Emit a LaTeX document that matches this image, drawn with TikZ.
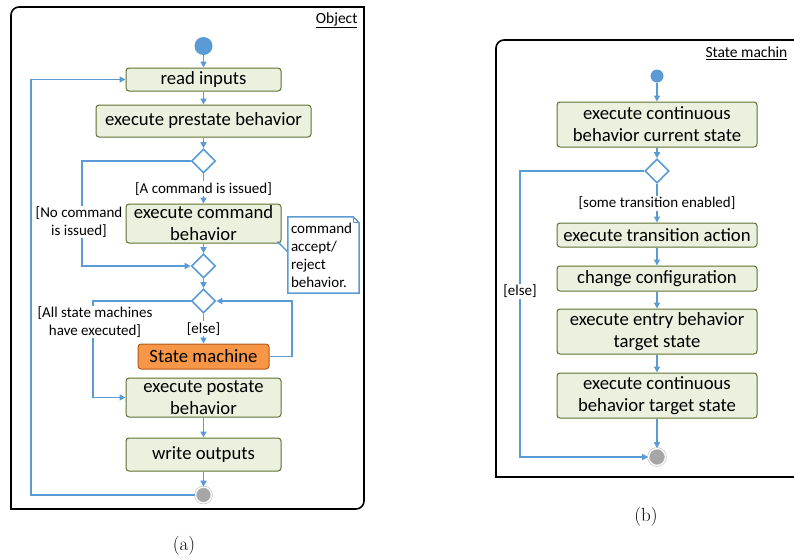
\documentclass[tikz,border=0pt]{standalone}
\usepackage{fontspec}
\newfontfamily\calfont{Carlito}
\usepackage{tikz}
\usetikzlibrary{arrows.meta,shapes.geometric,positioning}
\definecolor{flowblue}{HTML}{5B9BD5}
\definecolor{boxfill}{HTML}{EBF1DE}
\definecolor{boxline}{HTML}{5F6F30}
\definecolor{smfill}{HTML}{F79646}
\definecolor{smline}{HTML}{B35A16}
\definecolor{endgray}{HTML}{A6A6A6}
\tikzstyle{action} = [rectangle, rounded corners=3pt, fill=boxfill, draw=boxline, line width=1pt, align=center, inner sep=0pt, minimum width=155pt, font=\calfont\fontsize{18.7}{22}\selectfont]
\tikzstyle{smbox} = [action, fill=smfill, draw=smline, minimum width=131pt, minimum height=25pt]
\tikzstyle{decision} = [diamond, draw=flowblue, fill=white, line width=1.6pt, minimum width=24pt, minimum height=24pt, inner sep=0pt]
\tikzstyle{initial} = [circle, fill=flowblue, minimum size=18pt, inner sep=0pt]
\tikzstyle{final} = [circle, fill=endgray, draw=black!25, double=white, double distance=1.2pt, line width=0.6pt, minimum size=16pt, inner sep=0pt]
\tikzstyle{guard} = [fill=white, inner sep=1pt, align=center, font=\calfont\fontsize{15}{17.5}\selectfont]
\tikzstyle{notebox} = [align=left, text width=65pt, inner sep=3pt, minimum height=76pt, font=\calfont\fontsize{15}{18}\selectfont]
\tikzstyle{arrow} = [draw=flowblue, line width=1.6pt, -{Triangle[length=6pt,width=6pt]}]
\tikzstyle{frame} = [draw=black, line width=1.6pt]
\begin{document}
\begin{tikzpicture}[x=1pt, y=1pt, node distance=40pt]
\clip (0,0) rectangle (794,-558);
% (a) object
\draw [frame] (11,-509) -- (11,-15) arc[start angle=180, end angle=90, radius=8] -- (364,-7) -- (364,-501) arc[start angle=0, end angle=-90, radius=8] -- cycle;
\node (objname) [anchor=east, font=\calfont\fontsize{15.5}{18}\selectfont] at (361,-20) {\underline{Object}};
\node (init) [initial] at (203.5,-46) {};
\node (RI) [action, below of=init, node distance=33.5pt, minimum height=23pt] {read inputs};
\node (PRE) [action, below of=RI, node distance=41.5pt, minimum width=215pt, minimum height=32pt] {execute prestate behavior};
\node (D1) [decision, below of=PRE] {};
\node (CMD) [action, below of=D1, node distance=62.5pt, minimum height=39pt] {execute command\\behavior};
\node (D2) [decision, below of=CMD, node distance=42.5pt] {};
\node (D3) [decision, below of=D2, node distance=35pt] {};
\node (SM) [smbox, below of=D3, node distance=55.5pt] {State machine};
\node (POST) [action, below of=SM, node distance=41pt, minimum height=39pt] {execute postate\\behavior};
\node (WO) [action, below of=POST, node distance=57pt, minimum height=33pt] {write outputs};
\node (FIN) [final, below of=WO, node distance=40.5pt] {};
\node (note) [notebox] at (323.5,-255) {command\\accept/\\reject\\behavior.};
\coordinate (nocmd) at (82,-161);
\coordinate (allsm) at (93,-301);
\coordinate (smback) at (292,-356.5);
\coordinate (loopa) at (31,-495);
\draw [arrow] (init) -- (RI);
\draw [arrow] (RI) -- (PRE);
\draw [arrow] (PRE) -- (D1);
\draw [arrow] (D1) -- node [guard] {[A command is issued]} (CMD);
\draw [arrow] (D1) -- (nocmd) |- node [guard, pos=0.29, xshift=-3pt] {[No command\\is issued]} (D2);
\draw [arrow] (CMD) -- (D2);
\draw [arrow] (D2) -- (D3);
\draw [arrow] (D3) -- node [guard] {[else]} (SM);
\draw [arrow] (SM) -- (smback) |- (D3);
\draw [arrow] (D3) -- (allsm) |- node [guard, pos=0.11, xshift=2pt] {[All state machines\\have executed]} (POST);
\draw [arrow] (POST) -- (WO);
\draw [arrow] (WO) -- (FIN);
\draw [arrow] (FIN) -- (loopa) |- (RI);
\draw [draw=flowblue, line width=1.5pt] (note.north west) -- ([xshift=-6pt]note.north east) -- ([yshift=-6pt]note.north east) -- (note.south east) -- (note.south west) -- cycle;
\draw [draw=flowblue, line width=0.8pt] ([xshift=-6pt]note.north east) -- ++(0,-6) -- ([yshift=-6pt]note.north east);
\draw [draw=flowblue, line width=1.5pt] ([xshift=-4pt, yshift=2pt]CMD.south east) -- ([yshift=3pt]note.west);
\node (capa) [font=\fontsize{19}{22}\selectfont] at (184,-546) {(a)};
% (b) state machine
\draw [frame] (800,-477) -- (496,-477) -- (496,-48) arc[start angle=180, end angle=90, radius=8] -- (800,-40);
\node (smname) [anchor=west, font=\calfont\fontsize{15.5}{18}\selectfont] at (702,-53) {\underline{State machin}};
\node (sinit) [initial, minimum size=13pt] at (657,-76) {};
\node (ECC) [action, below of=sinit, node distance=48.5pt, minimum width=200pt, minimum height=45pt] {execute continuous\\behavior current state};
\node (SD) [decision, below of=ECC, node distance=46.5pt] {};
\node (ETA) [action, below of=SD, node distance=64pt, minimum width=200pt, minimum height=24pt] {execute transition action};
\node (CC) [action, below of=ETA, node distance=43.5pt, minimum width=200pt, minimum height=25pt] {change configuration};
\node (EEB) [action, below of=CC, node distance=53pt, minimum width=200pt, minimum height=45pt] {execute entry behavior\\target state};
\node (ECT) [action, below of=EEB, node distance=64pt, minimum width=200pt, minimum height=45pt] {execute continuous\\behavior target state};
\node (sfin) [final, minimum size=17pt, below of=ECT, node distance=61.5pt] {};
\coordinate (elseb) at (520,-171);
\draw [arrow] (sinit) -- (ECC);
\draw [arrow] (ECC) -- (SD);
\draw [arrow] (SD) -- node [guard] {[some transition enabled]} (ETA);
\draw [arrow] (ETA) -- (CC);
\draw [arrow] (CC) -- (EEB);
\draw [arrow] (EEB) -- (ECT);
\draw [arrow] (ECT) -- (sfin);
\draw [arrow] (SD) -- (elseb) |- node [guard, pos=0.21] {[else]} (sfin);
\node (capb) [font=\fontsize{19}{22}\selectfont] at (646,-517) {(b)};
\end{tikzpicture}
\end{document}
